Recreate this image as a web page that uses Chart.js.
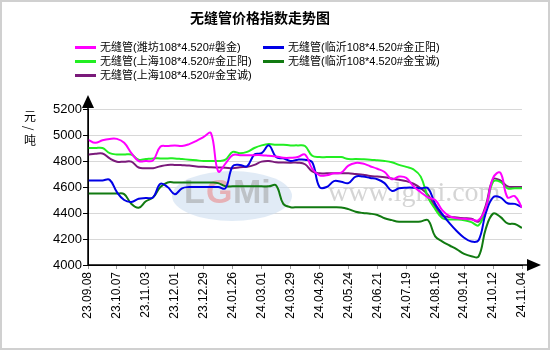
<!DOCTYPE html>
<html>
<head>
<meta charset="utf-8">
<script src="https://cdn.jsdelivr.net/npm/chart.js@4/dist/chart.umd.min.js"></script>
<style>
  body { margin: 0; background: #fff; }
  #wrap { position: relative; width: 550px; height: 350px; font-family: "Liberation Sans", "Noto Sans CJK SC", sans-serif; }
  #c { position: absolute; left: 0; top: 0; }
  .title { position: absolute; left: 190px; top: 8px; font-size: 14px; font-weight: bold; line-height: 18px; font-family: "Noto Sans CJK SC", sans-serif; color: #000; white-space: nowrap; }
  .lg { position: absolute; font-size: 11px; line-height: 14px; white-space: nowrap; color: #000; }
  .lg i { position: absolute; top: 6px; width: 21px; height: 3px; }
  .u { position: absolute; left: 24px; font-size: 12px; line-height: 12px; font-family: "Noto Sans CJK SC", sans-serif; color: #000; }
</style>
</head>
<body>
<div id="wrap">
  <canvas id="c" width="550" height="350"></canvas>
  <div class="title">无缝管价格指数走势图</div>
  <div id="legend"></div>
  <div class="u" style="top:110px">元</div>
  <div class="u" style="top:122px;left:27px;transform:rotate(90deg)">/</div>
  <div class="u" style="top:134px">吨</div>
</div>
<script>
// x 轴刻度（每 4 个点一个标签）
const tickLabels = ["23.09.08", "23.10.07", "23.11.03", "23.12.01", "23.12.29", "24.01.26", "24.03.01", "24.03.29",
  "24.04.26", "24.05.24", "24.06.21", "24.07.19", "24.08.16", "24.09.14", "24.10.12", "24.11.04"];
const pointsPerTick = 4;

const seriesNames = ["无缝管(潍坊108*4.520#磐金)", "无缝管(临沂108*4.520#金正阳)", "无缝管(上海108*4.520#金正阳)",
  "无缝管(临沂108*4.520#金宝诚)", "无缝管(上海108*4.520#金宝诚)"];
const seriesColors = ["#ff00ff", "#0000e6", "#22ee22", "#117a11", "#7a1a7a"];

const weifangPanjin = [4965, 4940, 4960, 4970, 4970, 4940, 4860, 4800, 4800, 4805, 4910, 4915, 4920, 4915, 4930, 4955,
  4985, 5015, 4720, 4780, 4845, 4845, 4845, 4845, 4845, 4840, 4835, 4825, 4825, 4830, 4850, 4740, 4690, 4690, 4705,
  4710, 4765, 4785, 4780, 4760, 4740, 4715, 4660, 4680, 4670, 4605, 4560, 4520, 4500, 4420, 4375, 4360, 4355, 4350,
  4345, 4440, 4670, 4710, 4520, 4530, 4440];
const linyiJinzhengyang = [4650, 4650, 4650, 4655, 4560, 4500, 4485, 4510, 4515, 4520, 4625, 4600, 4545, 4590, 4600,
  4600, 4600, 4600, 4600, 4590, 4760, 4770, 4760, 4850, 4860, 4920, 4830, 4820, 4800, 4810, 4810, 4790, 4600, 4600,
  4645, 4640, 4630, 4680, 4680, 4670, 4660, 4630, 4570, 4590, 4595, 4595, 4590, 4590, 4470, 4390, 4320, 4260, 4210,
  4180, 4190, 4400, 4520, 4520, 4475, 4470, 4445];
const shanghaiJinzhengyang = [4900, 4900, 4900, 4860, 4850, 4850, 4850, 4810, 4815, 4820, 4820, 4820, 4820, 4815, 4810,
  4805, 4800, 4800, 4800, 4810, 4870, 4860, 4870, 4900, 4920, 4930, 4925, 4925, 4920, 4920, 4915, 4840, 4830, 4830,
  4830, 4830, 4815, 4815, 4813, 4810, 4805, 4800, 4790, 4770, 4755, 4735, 4680, 4520, 4430, 4360, 4350, 4350, 4345,
  4330, 4305, 4430, 4640, 4640, 4590, 4590, 4590];
const linyiJinbaocheng = [4550, 4550, 4550, 4550, 4550, 4545, 4470, 4440, 4490, 4520, 4600, 4635, 4635, 4635, 4635,
  4635, 4635, 4635, 4630, 4605, 4605, 4605, 4605, 4605, 4605, 4605, 4612, 4470, 4445, 4445, 4445, 4445, 4445, 4445,
  4445, 4443, 4430, 4410, 4400, 4395, 4385, 4360, 4345, 4333, 4333, 4333, 4335, 4345, 4220, 4180, 4150, 4120, 4085,
  4068, 4065, 4280, 4395, 4370, 4320, 4315, 4285];
const shanghaiJinbaocheng = [4850, 4855, 4858, 4820, 4795, 4795, 4795, 4750, 4745, 4745, 4760, 4770, 4770, 4768, 4765,
  4758, 4755, 4752, 4750, 4748, 4745, 4752, 4755, 4770, 4795, 4800, 4790, 4788, 4787, 4787, 4775, 4720, 4705, 4705,
  4705, 4705, 4705, 4700, 4695, 4685, 4680, 4675, 4665, 4655, 4645, 4625, 4590, 4540, 4450, 4380, 4370, 4365, 4360,
  4355, 4335, 4460, 4660, 4650, 4605, 4600, 4600];

const yTicks = { min: 4000, max: 5200, step: 200 };

const allSeries = [weifangPanjin, linyiJinzhengyang, shanghaiJinzhengyang, linyiJinbaocheng, shanghaiJinbaocheng];

// 图例（两列）
function buildLegend() {
  const box = document.getElementById("legend");
  const cols = [75, 263];
  seriesNames.forEach((name, k) => {
    const row = Math.floor(k / 2), col = k % 2;
    const d = document.createElement("div");
    d.className = "lg";
    d.style.left = cols[col] + "px";
    d.style.top = (40 + row * 14) + "px";
    d.style.paddingLeft = "25px";
    d.innerHTML = `<i style="left:0;background:${seriesColors[k]}"></i>${name}`;
    box.appendChild(d);
  });
}

const decor = {
  id: "decor",
  beforeDatasetsDraw(chart) {
    const ctx = chart.ctx;
    ctx.save();
    // 水印
    ctx.fillStyle = "rgba(205,222,240,0.6)";
    ctx.beginPath();
    ctx.ellipse(232, 196, 60, 25, 0, 0, Math.PI * 2);
    ctx.fill();
    ctx.font = "bold 34px 'Liberation Sans'";
    ctx.textBaseline = "middle";
    ctx.fillStyle = "rgba(160,160,160,0.55)";
    ctx.fillText("L", 184, 194);
    ctx.fillStyle = "rgba(235,130,130,0.55)";
    ctx.fillText("G", 206, 194);
    ctx.fillStyle = "rgba(160,160,160,0.55)";
    ctx.fillText("Mi", 233, 194);
    ctx.font = "28px 'Liberation Serif'";
    ctx.fillStyle = "rgba(185,185,185,0.6)";
    ctx.fillText("www.lgmi.com", 328, 194);
    ctx.restore();
  },
  afterDraw(chart) {
    const ctx = chart.ctx;
    const a = chart.chartArea;
    ctx.save();
    ctx.strokeStyle = "#000";
    ctx.fillStyle = "#000";
    ctx.lineWidth = 1.5;
    ctx.beginPath();
    ctx.moveTo(a.left, a.bottom);
    ctx.lineTo(a.left, 104);
    ctx.moveTo(a.left, a.bottom);
    ctx.lineTo(530, a.bottom);
    ctx.stroke();
    ctx.beginPath();
    ctx.moveTo(a.left, 95);
    ctx.lineTo(a.left - 6, 108);
    ctx.lineTo(a.left + 6, 108);
    ctx.closePath();
    ctx.fill();
    ctx.beginPath();
    ctx.moveTo(541, a.bottom);
    ctx.lineTo(527, a.bottom - 6);
    ctx.lineTo(527, a.bottom + 6);
    ctx.closePath();
    ctx.fill();
    // 外框
    ctx.strokeStyle = "#d0d0d0";
    ctx.lineWidth = 2;
    ctx.strokeRect(1, 1, 548, 348);
    ctx.restore();
  }
};

const lastIndex = (tickLabels.length - 1) * pointsPerTick;

new Chart(document.getElementById("c"), {
  type: "line",
  data: {
    datasets: allSeries.map((vals, k) => ({
      label: seriesNames[k],
      data: vals.map((v, i) => ({ x: i, y: v })),
      borderColor: seriesColors[k],
      borderWidth: 2,
      pointRadius: 0,
      tension: 0.4,
      fill: false
    }))
  },
  options: {
    responsive: false,
    animation: false,
    layout: { padding: { top: 109, right: 28, bottom: 0, left: 0 } },
    plugins: { legend: { display: false }, tooltip: { enabled: false } },
    scales: {
      x: {
        type: "linear",
        min: 0,
        max: lastIndex,
        afterFit: s => { s.height = 85; },
        afterBuildTicks: s => {
          s.ticks = tickLabels.map((t, j) => ({ value: j * pointsPerTick }));
        },
        ticks: {
          autoSkip: false,
          maxRotation: 90,
          minRotation: 90,
          padding: 3,
          color: "#000",
          font: { family: "Liberation Sans", size: 12 },
          callback: v => tickLabels[Math.round(v / pointsPerTick)]
        },
        grid: { drawOnChartArea: false, drawTicks: true, tickLength: 4, tickColor: "#999" },
        border: { display: true, color: "#000", width: 1 }
      },
      y: {
        min: yTicks.min,
        max: yTicks.max,
        afterFit: s => { s.width = 88; },
        ticks: {
          stepSize: yTicks.step,
          padding: 1,
          color: "#000",
          font: { family: "Liberation Sans", size: 13 },
          callback: v => String(v)
        },
        grid: { color: "#d8d8d8", lineWidth: 1, drawTicks: true, tickLength: 5, tickColor: "#000" },
        border: { display: true, color: "#000", width: 1 }
      }
    }
  },
  plugins: [decor]
});

buildLegend();
</script>
</body>
</html>
